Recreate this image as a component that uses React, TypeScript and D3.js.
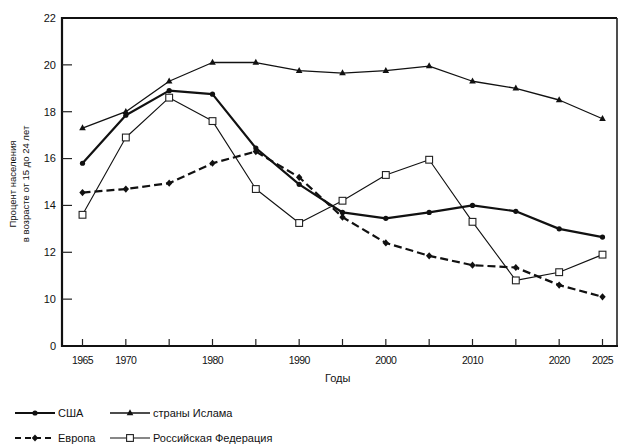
import React from "react";
import * as d3 from "d3";

const years = [1965, 1970, 1975, 1980, 1985, 1990, 1995, 2000, 2005, 2010, 2015, 2020, 2025];
const usa = [15.8, 17.85, 18.9, 18.75, 16.45, 14.9, 13.7, 13.45, 13.7, 14.0, 13.75, 13.0, 12.65];
const islam = [17.3, 18.0, 19.3, 20.1, 20.1, 19.75, 19.65, 19.75, 19.95, 19.3, 19.0, 18.5, 17.7];
const europe = [14.55, 14.7, 14.95, 15.8, 16.3, 15.2, 13.5, 12.4, 11.85, 11.45, 11.35, 10.6, 10.1];
const russia = [13.6, 16.9, 18.6, 17.6, 14.7, 13.25, 14.2, 15.3, 15.95, 13.3, 10.8, 11.15, 11.9];

const xTickValues = [1965, 1970, 1975, 1980, 1985, 1990, 1995, 2000, 2005, 2010, 2015, 2020, 2025];
const xLabelValues = [1965, 1970, 1980, 1990, 2000, 2010, 2020, 2025];
const yTickValues = [8, 10, 12, 14, 16, 18, 20, 22];
const yTickLabels = ["0", "10", "12", "14", "16", "18", "20", "22"];

const seriesNames = ["США", "страны Ислама", "Европа", "Российская Федерация"];
const yTitle1 = "Процент населения";
const yTitle2 = "в возрасте от 15 до 24 лет";
const xTitle = "Годы";

const FONT = "'Liberation Sans Narrow', 'Liberation Sans', Arial, sans-serif";

const x = d3.scaleLinear().domain([1965, 2025]).range([82.5, 602.5]);
const y = d3.scaleLinear().domain([8, 22]).range([346, 18]);

const line = d3
  .line<number>()
  .x((_, i) => x(years[i]))
  .y((d) => y(d));

function Marker({ kind, cx, cy }: { kind: string; cx: number; cy: number }) {
  if (kind === "circle") return <circle cx={cx} cy={cy} r={2.6} fill="#111" />;
  if (kind === "triangle")
    return (
      <path
        d={`M${cx},${cy - 3.8}L${cx + 3.3},${cy + 2.2}L${cx - 3.3},${cy + 2.2}Z`}
        fill="#111"
      />
    );
  if (kind === "diamond")
    return (
      <path
        d={`M${cx},${cy - 3.6}L${cx + 3.2},${cy}L${cx},${cy + 3.6}L${cx - 3.2},${cy}Z`}
        fill="#111"
      />
    );
  return (
    <rect x={cx - 3.4} y={cy - 3.4} width={6.8} height={6.8} fill="#fff" stroke="#222" strokeWidth={1.1} />
  );
}

const series = [
  { name: seriesNames[0], data: usa, width: 2.2, dash: "", marker: "circle" },
  { name: seriesNames[1], data: islam, width: 1.3, dash: "", marker: "triangle" },
  { name: seriesNames[2], data: europe, width: 2.2, dash: "8,4", marker: "diamond" },
  { name: seriesNames[3], data: russia, width: 1.1, dash: "", marker: "square" },
];

export default function App() {
  const legendPos = [
    { x: 15, y: 413 },
    { x: 110, y: 413 },
    { x: 15, y: 438 },
    { x: 110, y: 438 },
  ];
  return (
    <svg
      width={622}
      height={446}
      style={{ position: "absolute", left: 0, top: 0, background: "#fff" }}
      fontFamily={FONT}
    >
      <rect width={622} height={446} fill="#fff" />
      {/* frame */}
      <line x1={62} y1={18} x2={617} y2={18} stroke="#111" strokeWidth={2.2} />
      <line x1={617} y1={18} x2={617} y2={346} stroke="#222" strokeWidth={1.6} />
      <line x1={62} y1={17} x2={62} y2={347} stroke="#111" strokeWidth={2.2} />
      <line x1={61} y1={346} x2={618} y2={346} stroke="#111" strokeWidth={2.2} />
      {/* y ticks */}
      {yTickValues.map((v, i) => (
        <g key={v}>
          {v !== 8 && v !== 22 && (
            <line x1={62} x2={72} y1={y(v)} y2={y(v)} stroke="#222" strokeWidth={1.2} />
          )}
          <text x={56} y={y(v)} dy="0.35em" textAnchor="end" fontSize={11} fill="#111">
            {yTickLabels[i]}
          </text>
        </g>
      ))}
      {/* x ticks */}
      {xTickValues.map((v) => (
        <line key={v} x1={x(v)} x2={x(v)} y1={346} y2={339} stroke="#222" strokeWidth={1.2} />
      ))}
      {xLabelValues.map((v) => (
        <text key={v} x={x(v)} y={364} textAnchor="middle" fontSize={10.5} fill="#111" letterSpacing={-0.6}>
          {v}
        </text>
      ))}
      <text x={325} y={382} fontSize={11} fill="#111">
        {xTitle}
      </text>
      {/* y title */}
      <g transform="translate(16,184) rotate(-90)">
        <text x={0} y={0} textAnchor="middle" fontSize={9.5} fill="#111">
          {yTitle1}
        </text>
        <text x={0} y={13} textAnchor="middle" fontSize={9.5} fill="#111">
          {yTitle2}
        </text>
      </g>
      {/* series */}
      {series.map((s) => (
        <g key={s.name}>
          <path
            d={line(s.data) || ""}
            fill="none"
            stroke="#111"
            strokeWidth={s.width}
            strokeDasharray={s.dash}
            strokeLinejoin="round"
          />
          {s.data.map((d, i) => (
            <Marker key={i} kind={s.marker} cx={x(years[i])} cy={y(d)} />
          ))}
        </g>
      ))}
      {/* legend */}
      {series.map((s, i) => {
        const p = legendPos[i];
        return (
          <g key={s.name}>
            <line
              x1={p.x}
              x2={p.x + 40}
              y1={p.y}
              y2={p.y}
              stroke="#111"
              strokeWidth={s.width}
              strokeDasharray={s.dash ? "6,4" : ""}
            />
            <Marker kind={s.marker} cx={p.x + 20} cy={p.y} />
            <text x={p.x + 43} y={p.y} dy="0.35em" fontSize={11} fill="#111">
              {s.name}
            </text>
          </g>
        );
      })}
    </svg>
  );
}
